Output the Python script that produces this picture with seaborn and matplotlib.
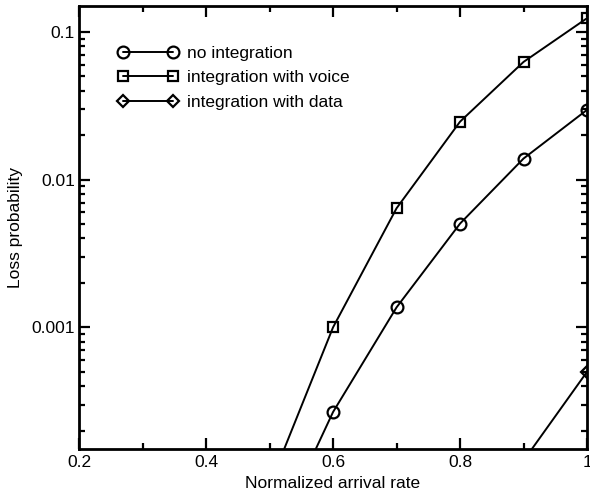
import numpy as np
import pandas as pd
import matplotlib
matplotlib.use("Agg")
import matplotlib.pyplot as plt
import seaborn as sns
from matplotlib.ticker import FixedLocator, NullFormatter, LogLocator, MultipleLocator

sns.set_style("ticks")
plt.rcParams['font.family'] = ['Liberation Sans', 'DejaVu Sans']
plt.rcParams.update({
    "text.color": "black", "axes.labelcolor": "black",
    "xtick.color": "black", "ytick.color": "black",
    "axes.edgecolor": "black",
})

x_rate = [0.5, 0.6, 0.7, 0.8, 0.9, 1.0]
no_integration = [3.2e-5, 2.67e-4, 1.365e-3, 5.04e-3, 1.39e-2, 2.97e-2]
with_voice = [8.5e-5, 1.0e-3, 6.4e-3, 2.47e-2, 6.27e-2, 1.24e-1]
x_data = [0.9, 1.0]
with_data = [1.25e-4, 5.0e-4]

series = [
    ("no integration", x_rate, no_integration, "o", 8.5),
    ("integration with voice", x_rate, with_voice, "s", 7.5),
    ("integration with data", x_data, with_data, "D", 6.5),
]

fig = plt.figure(figsize=(5.9, 4.97), dpi=100)
ax = fig.add_axes([0.134, 0.0966, 0.861, 0.8914])

for name, xs, ys, mk, ms in series:
    df = pd.DataFrame({"x": xs, "y": ys})
    sns.lineplot(data=df, x="x", y="y", ax=ax, color="black", linewidth=1.4,
                 marker=mk, markersize=ms,
                 markerfacecolor="none", markeredgecolor="black",
                 markeredgewidth=1.6, label=name)

ax.set_yscale("log")
ax.set_xlim(0.2, 1.0)
ax.set_ylim(1.5e-4, 0.15)

ax.xaxis.set_major_locator(FixedLocator([0.2, 0.4, 0.6, 0.8, 1.0]))
ax.set_xticklabels(["0.2", "0.4", "0.6", "0.8", "1"])
ax.xaxis.set_minor_locator(MultipleLocator(0.1))
ax.yaxis.set_major_locator(FixedLocator([0.001, 0.01, 0.1]))
ax.set_yticklabels(["0.001", "0.01", "0.1"])
ax.yaxis.set_minor_locator(LogLocator(base=10, subs=np.arange(2, 10), numticks=20))
ax.yaxis.set_minor_formatter(NullFormatter())

ax.tick_params(which="both", direction="in", top=True, right=True, width=1.6,
               labelsize=12.5, colors="black")
ax.tick_params(axis="y", pad=3)
ax.tick_params(axis="x", pad=4)
ax.tick_params(which="major", length=8)
ax.tick_params(which="minor", length=4.5)
for s in ax.spines.values():
    s.set_linewidth(2.0)
    s.set_color("black")

ax.set_xlabel("Normalized arrival rate", fontsize=12.5, labelpad=5, color="black")
ax.set_ylabel("Loss probability", fontsize=12.5, labelpad=6, color="black")

leg = ax.legend(loc="upper left", bbox_to_anchor=(0.0626, 0.925), frameon=False,
                fontsize=12.5, numpoints=2, handlelength=3.5, handletextpad=0.5,
                labelspacing=0.52, borderaxespad=0)
for t in leg.get_texts():
    t.set_color("black")

fig.savefig("out.png", dpi=100)
